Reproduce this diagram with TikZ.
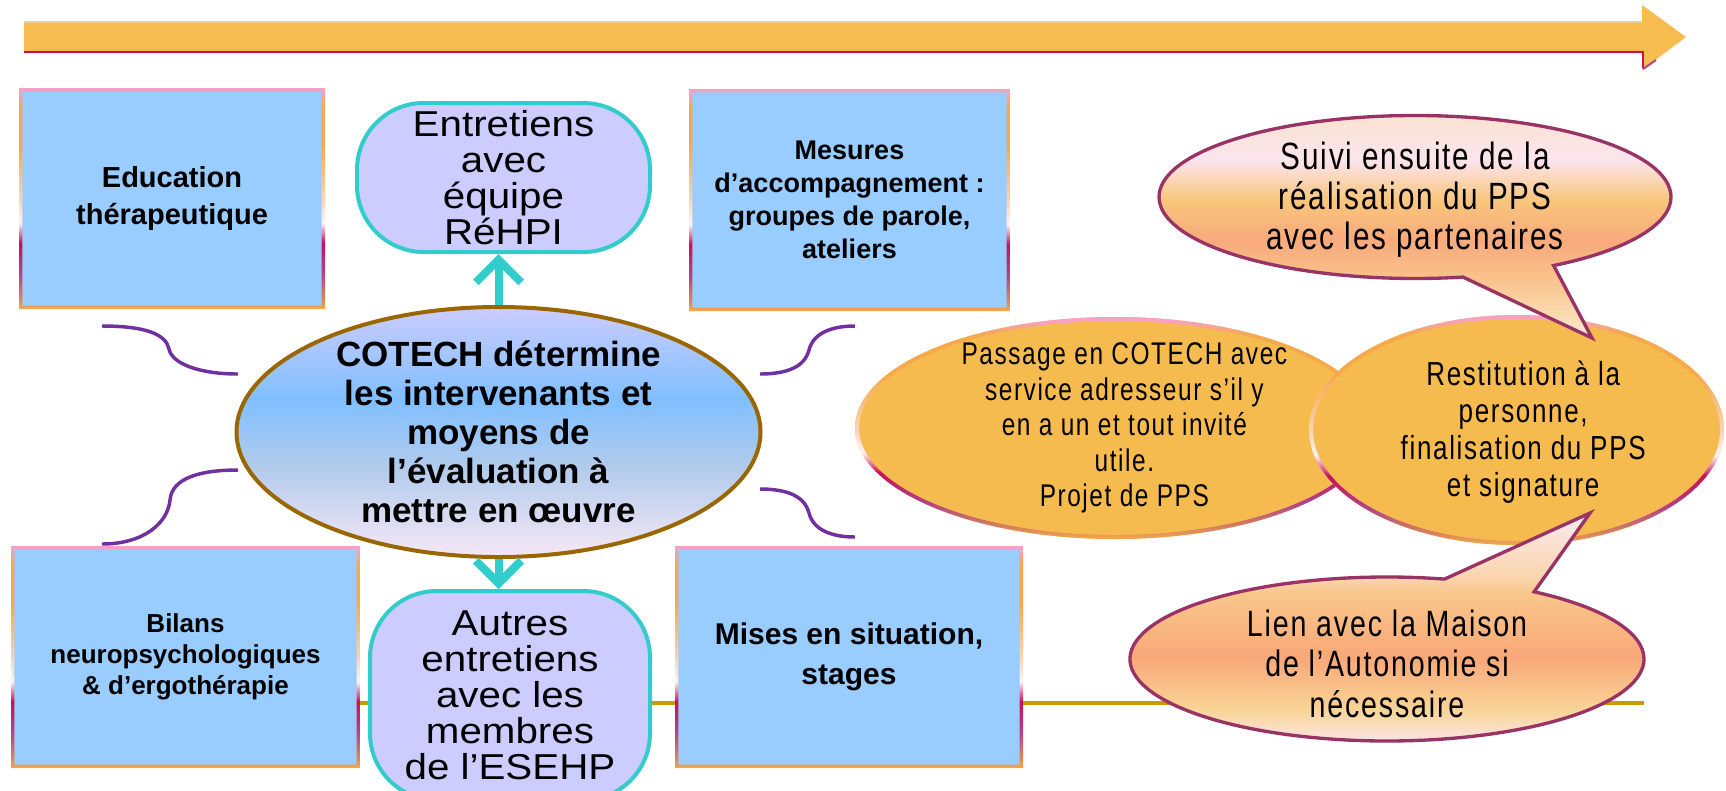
\documentclass[tikz,border=0pt]{standalone}
\usepackage{fontspec}
\setmainfont{Liberation Sans}
\newfontfamily\agencyfont[FakeStretch=0.78,LetterSpace=5]{Liberation Sans}
\newfontfamily\capsulefont[FakeStretch=1.12]{Liberation Sans}
\usetikzlibrary{arrows.meta,shapes.geometric,shapes.callouts}

\definecolor{boxblue}{HTML}{99CCFF}
\definecolor{capsulefill}{HTML}{CCCCFF}
\definecolor{capsuleline}{HTML}{33CCCC}
\definecolor{ovalline}{HTML}{996600}
\definecolor{squigpurple}{HTML}{7030A0}
\definecolor{timeorange}{HTML}{F6BC50}
\definecolor{timelight}{HTML}{F9C88C}
\definecolor{railgold}{HTML}{CC9900}
\definecolor{rimpink}{HTML}{F7A1C0}
\definecolor{rimorange}{HTML}{F5A94C}
\definecolor{rimpeach}{HTML}{FAD3B4}
\definecolor{rimwhite}{HTML}{FFF2F6}
\definecolor{rimcrimson}{HTML}{C8105A}
\definecolor{rimpurple}{HTML}{B0458A}
\definecolor{rimbrown}{HTML}{D9845A}
\definecolor{passorange}{HTML}{F6BB4F}
\definecolor{bubbleline}{HTML}{993366}
\definecolor{cotechtop}{HTML}{CCCCFF}
\definecolor{cotechmid}{HTML}{80BFFF}
\definecolor{cotechlow}{HTML}{B4CCEC}
\definecolor{cotechbot}{HTML}{F6E8F6}

\pgfdeclareverticalshading{boxrim}{100bp}{color(0bp)=(rimorange); color(25bp)=(rimorange); color(27.5bp)=(rimbrown); color(33bp)=(rimpurple); color(40bp)=(rimcrimson); color(44.5bp)=(rimwhite); color(50bp)=(rimpeach); color(62bp)=(rimorange); color(71bp)=(rimorange); color(74bp)=(rimpink); color(100bp)=(rimpink)}
\pgfdeclareverticalshading{cotechshade}{100bp}{color(0bp)=(cotechbot); color(25bp)=(cotechbot); color(42.5bp)=(cotechlow); color(56.5bp)=(cotechmid); color(75bp)=(cotechtop); color(100bp)=(cotechtop)}
\pgfdeclareverticalshading{suivishade}{100bp}{color(0bp)=(rgb,255:red,251;green,230;blue,224); color(25bp)=(rgb,255:red,251;green,230;blue,224); color(30bp)=(rgb,255:red,250;green,220;blue,176); color(39bp)=(rgb,255:red,249;green,192;blue,138); color(47bp)=(rgb,255:red,248;green,170;blue,124); color(56bp)=(rgb,255:red,249;green,198;blue,124); color(65bp)=(rgb,255:red,252;green,228;blue,238); color(75bp)=(rgb,255:red,249;green,227;blue,208); color(100bp)=(rgb,255:red,249;green,227;blue,208)}
\pgfdeclareverticalshading{lienshade}{100bp}{color(0bp)=(rgb,255:red,251;green,230;blue,238); color(25bp)=(rgb,255:red,251;green,230;blue,238); color(32.5bp)=(rgb,255:red,249;green,213;blue,152); color(44bp)=(rgb,255:red,248;green,168;blue,120); color(57.5bp)=(rgb,255:red,249;green,198;blue,138); color(61.5bp)=(rgb,255:red,250;green,214;blue,174); color(75bp)=(rgb,255:red,252;green,234;blue,240); color(100bp)=(rgb,255:red,252;green,234;blue,240)}

\tikzset{
  planbox/.style={rectangle, fill=boxblue, inner sep=0pt, align=center,
    path picture={\shade[shading=boxrim, even odd rule]
      (path picture bounding box.south west) rectangle (path picture bounding box.north east)
      ([shift={(2.5pt,2.5pt)}]path picture bounding box.south west) rectangle ([shift={(-2.5pt,-2.5pt)}]path picture bounding box.north east);}},
  capsule/.style={rectangle, rounded corners=50pt, fill=capsulefill, draw=capsuleline, line width=3pt,
    inner sep=0pt, align=center, font=\capsulefont\fontsize{27pt}{27pt}\selectfont},
  rimoval/.style 2 args={ellipse, fill=passorange, inner sep=0pt, minimum width=#1, minimum height=#2,
    path picture={\shade[shading=boxrim, even odd rule]
      (path picture bounding box.center) ellipse [x radius=#1/2, y radius=#2/2]
      (path picture bounding box.center) ellipse [x radius=#1/2-3pt, y radius=#2/2-3pt];}},
  bubble/.style={ellipse callout, draw=bubbleline, line width=2.5pt, inner sep=0pt, callout pointer arc=22},
  ovaltext/.style={align=center, inner sep=0pt},
  flow/.style={draw=capsuleline, line width=6pt, -{Straight Barb[length=17pt,width=34pt]}},
  squig/.style={draw=squigpurple, line width=2.6pt},
  rail/.style={draw=railgold, line width=2.5pt}
}

\begin{document}
\begin{tikzpicture}[x=0.75pt,y=-0.75pt]
  \fill[white] (0,0) rectangle (1726,790);
  \useasboundingbox (0,0) rectangle (1726,790);
  \clip (0,0) rectangle (1726,790);

  % time line
  \fill[timeorange] (24,21) -- (1642,21) -- (1642,5) -- (1686,37) -- (1642,70) -- (1642,53) -- (24,53) -- cycle;
  \draw[timelight, line width=1.5pt] (24,22) -- (1642,22);
  \draw[rimcrimson, line width=2.2pt] (24,52) -- (1643,52) -- (1643,68);
  \draw[rimpurple, line width=1.5pt] (1643,69) -- (1656,60);

  % rail behind the lower row
  \coordinate (railstart) at (340,703);
  \coordinate (railend) at (1644,703);
  \draw[rail] (railstart) -- (railend);

  % boxes
  \node[planbox, minimum width=229.5pt, minimum height=165.75pt, font=\bfseries\fontsize{21.75pt}{27.75pt}\selectfont] (edu) at (172,198.5) {Education\\thérapeutique};
  \node[planbox, minimum width=240.75pt, minimum height=166.5pt, font=\bfseries\fontsize{20.25pt}{24.75pt}\selectfont] (mesures) at (849.5,200) {Mesures\\d’accompagnement :\\groupes de parole,\\ateliers};
  \node[planbox, minimum width=261.75pt, minimum height=166.5pt, font=\bfseries\fontsize{19.5pt}{23.25pt}\selectfont] (bilans) at (185.5,657) {Bilans\\neuropsychologiques\\\& d’ergothérapie};
  \node[planbox, minimum width=261pt, minimum height=166.5pt, font=\bfseries\fontsize{22.5pt}{30pt}\selectfont] (mises) at (849,657) {Mises en situation,\\stages};

  % capsules
  \node[capsule, minimum width=219.75pt, minimum height=111.75pt] (rehpi) at (503.5,177.5) {Entretiens\\avec\\équipe\\RéHPI};
  \node[capsule, minimum width=210pt, minimum height=156.75pt] (autres) at (510,695.5) {Autres\\entretiens\\avec les\\membres\\de l’ESEHP};

  % centre
  \node[ellipse, shade, shading=cotechshade, draw=ovalline, line width=3pt, minimum width=393pt, minimum height=187.5pt] (cotech) at (498.5,432) {};
  \node[ovaltext, font=\bfseries\fontsize{26.25pt}{29.25pt}\selectfont] (cotechtext) at (cotech.center) {COTECH détermine\\les intervenants et\\moyens de\\l’évaluation à\\mettre en œuvre};

  \draw[flow] (cotech.north) -- (cotech.north |- rehpi.south);
  \draw[flow] (cotech.south) -- (cotech.south |- autres.north);

  \draw[squig] (102,326) .. controls (145,326) and (166,334) .. (169,349) .. controls (172,364) and (200,374) .. (238,374);
  \draw[squig] (238,470) .. controls (200,470) and (172,478) .. (170,500) .. controls (168,522) and (145,544) .. (102,544);
  \draw[squig] (760,374) .. controls (795,374) and (806,362) .. (809,350) .. controls (813,334) and (830,326) .. (855,326);
  \draw[squig] (760,489) .. controls (795,489) and (806,501) .. (809,513) .. controls (813,529) and (830,537) .. (855,537);

  % right part
  \node[rimoval={390pt}{166.5pt}] (passage) at (1115,428) {};
  \node[ovaltext, font=\agencyfont\fontsize{23.5pt}{26.6pt}\selectfont] (passagetext) at ([xshift=7pt]passage.center) {Passage en COTECH avec\\service adresseur s’il y\\en a un et tout invité\\utile.\\Projet de PPS};
  \node[rimoval={311.25pt}{172.5pt}] (restitution) at (1516.5,430) {};
  \node[ovaltext, font=\agencyfont\fontsize{25pt}{27.75pt}\selectfont] (restitutiontext) at ([xshift=5pt,yshift=-1.5pt]restitution.center) {Restitution à la\\personne,\\finalisation du PPS\\et signature};

  \coordinate (suivitip) at (1592,338);
  \node[bubble, shade, shading=suivishade, minimum width=384pt, minimum height=122.25pt, callout absolute pointer=(suivitip)] (suivi) at (1415,197) {};
  \node[ovaltext, font=\agencyfont\fontsize{28.5pt}{30pt}\selectfont] (suivitext) at ([yshift=-2pt]suivi.center) {Suivi ensuite de la\\réalisation du PPS\\avec les partenaires};

  \coordinate (lientip) at (1590,513);
  \node[bubble, shade, shading=lienshade, minimum width=385.5pt, minimum height=123pt, callout absolute pointer=(lientip)] (lien) at (1387,659) {};
  \node[ovaltext, font=\agencyfont\fontsize{27.5pt}{30.5pt}\selectfont] (lientext) at ([yshift=-3.5pt]lien.center) {Lien avec la Maison\\de l’Autonomie si\\nécessaire};
\end{tikzpicture}
\end{document}
